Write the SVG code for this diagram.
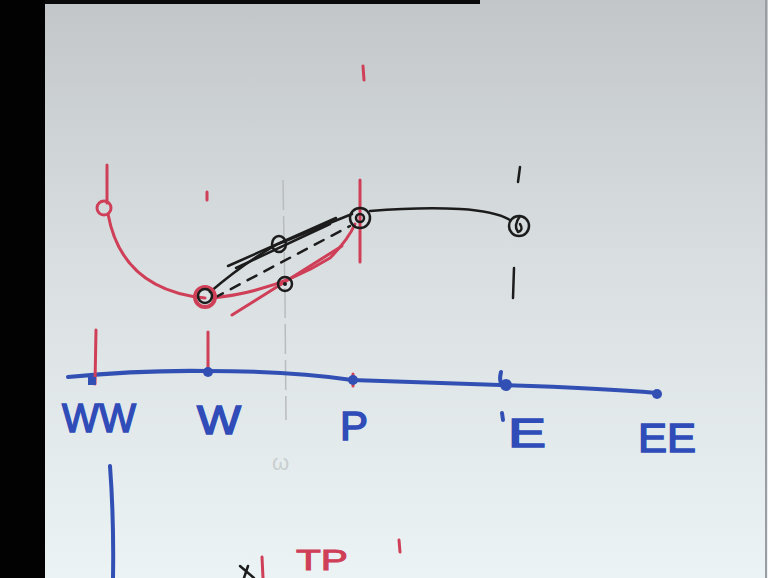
<svg xmlns="http://www.w3.org/2000/svg" width="768" height="578" viewBox="0 0 768 578">
<defs>
<linearGradient id="bg" x1="0" y1="0" x2="0" y2="1">
<stop offset="0" stop-color="#c2c6c9"/>
<stop offset="0.45" stop-color="#d9dfe1"/>
<stop offset="1" stop-color="#ecf3f4"/>
</linearGradient>
<style>
.red{fill:none;stroke:#cf3f58;stroke-width:3;stroke-linecap:round;stroke-linejoin:round}
.blk{fill:none;stroke:#1c1c1c;stroke-width:2.5;stroke-linecap:round;stroke-linejoin:round}
.blu{fill:none;stroke:#3250b4;stroke-width:4;stroke-linecap:round;stroke-linejoin:round}
.dot{fill:#3250b4}
.lbl{font-family:"Liberation Sans","DejaVu Sans",sans-serif;fill:#2f4cb8;stroke:#2f4cb8;stroke-width:1.5;font-size:40px}
.rlbl{font-family:"Liberation Sans","DejaVu Sans",sans-serif;fill:#cf3f58;stroke:#cf3f58;stroke-width:1;font-size:30px}
</style>
</defs>
<rect width="768" height="578" fill="url(#bg)"/>
<rect x="0" y="0" width="45" height="578" fill="#020202"/>
<rect x="45" y="0" width="435" height="4" fill="#0a0a0a"/>
<line x1="766" y1="0" x2="766" y2="578" stroke="#9a9ea2" stroke-width="2"/>

<!-- faint guide line -->
<path d="M283,180 L284,240 L285,300 L286,420" fill="none" stroke="#b9bcbd" stroke-width="1.5" stroke-dasharray="30 6"/>
<text x="272" y="470" font-family="Liberation Sans,sans-serif" font-size="22" fill="#c9cfd0">ω</text>

<g id="connectors">
<path class="blu" d="M68,377 Q140,370 207,371 Q290,371 352,380 L500,385 Q600,388 657,393"/>
<path class="red" d="M108,214 Q122,290 205,298"/>
<path class="red" d="M212,298 Q275,292 330,258 Q348,240 355,224"/>
<path class="red" d="M232,315 L342,246"/>
<path class="blk" stroke-width="4" d="M228,266 L336,218"/>
<path class="blk" d="M236,268 L330,224"/>
<path class="blk" d="M210,292 Q245,262 278,244 L352,214"/>
<path class="blk" stroke-dasharray="10 9" d="M214,298 L350,226"/>
<path class="blk" d="M370,211 Q420,207 460,209 Q495,211 510,220"/>
<path class="blu" d="M110,466 Q114,520 113,578"/>
</g>

<g id="node-WW">
<path class="red" d="M107,165 L107,203"/>
<circle class="red" cx="104" cy="208" r="7"/>
<path class="red" d="M96,330 L95,384"/>
<rect x="88" y="377" width="8" height="8" class="dot"/>
<text class="lbl" x="62" y="432" textLength="74" lengthAdjust="spacingAndGlyphs">WW</text>
</g>

<g id="node-W">
<path class="red" d="M207,192 L207,200"/>
<circle cx="205" cy="297" r="10" fill="none" stroke="#cf3f58" stroke-width="4"/>
<circle class="blk" cx="205" cy="296" r="7"/>
<path class="red" d="M208,332 L208,370"/>
<circle class="dot" cx="208" cy="372" r="5"/>
<text class="lbl" x="197" y="434" textLength="44" lengthAdjust="spacingAndGlyphs">W</text>
</g>

<g id="node-mid">
<ellipse class="blk" cx="279" cy="244" rx="7" ry="8"/>
<circle class="blk" cx="285" cy="284" r="7"/>
<circle cx="285" cy="284" r="2" fill="#1c1c1c"/>
</g>

<g id="node-P">
<path class="red" d="M363,66 L364,80"/>
<path class="red" d="M360,180 L360,262"/>
<circle class="blk" cx="360" cy="218" r="10"/>
<circle class="blk" cx="360" cy="218" r="4"/>
<path class="red" d="M353,374 L353,386"/>
<circle class="dot" cx="353" cy="380" r="5"/>
<text class="lbl" x="340" y="440" textLength="28" lengthAdjust="spacingAndGlyphs">P</text>
</g>

<g id="node-E">
<path class="blk" d="M520,167 L518,182"/>
<circle class="blk" cx="519" cy="226" r="10"/>
<path class="blk" d="M520,216 Q513,226 518,232 Q524,230 520,224"/>
<path class="blk" d="M514,268 L513,298"/>
<path class="blu" d="M501,372 Q498,384 505,386"/>
<circle class="dot" cx="506" cy="385" r="6"/>
<path class="blu" stroke-width="3" d="M502,413 L503,420"/>
<text class="lbl" x="508" y="447" textLength="38" lengthAdjust="spacingAndGlyphs">E</text>
</g>

<g id="node-EE">
<circle class="dot" cx="657" cy="394" r="5"/>
<text class="lbl" x="638" y="452" textLength="58" lengthAdjust="spacingAndGlyphs">EE</text>
</g>

<g id="bottom">
<path class="blk" d="M240,566 L254,578 M248,566 L244,578"/>
<path class="red" d="M262,557 L263,578"/>
<text class="rlbl" x="296" y="570" textLength="52" lengthAdjust="spacingAndGlyphs">TP</text>
<path class="red" d="M399,540 L400,552"/>
</g>
</svg>
